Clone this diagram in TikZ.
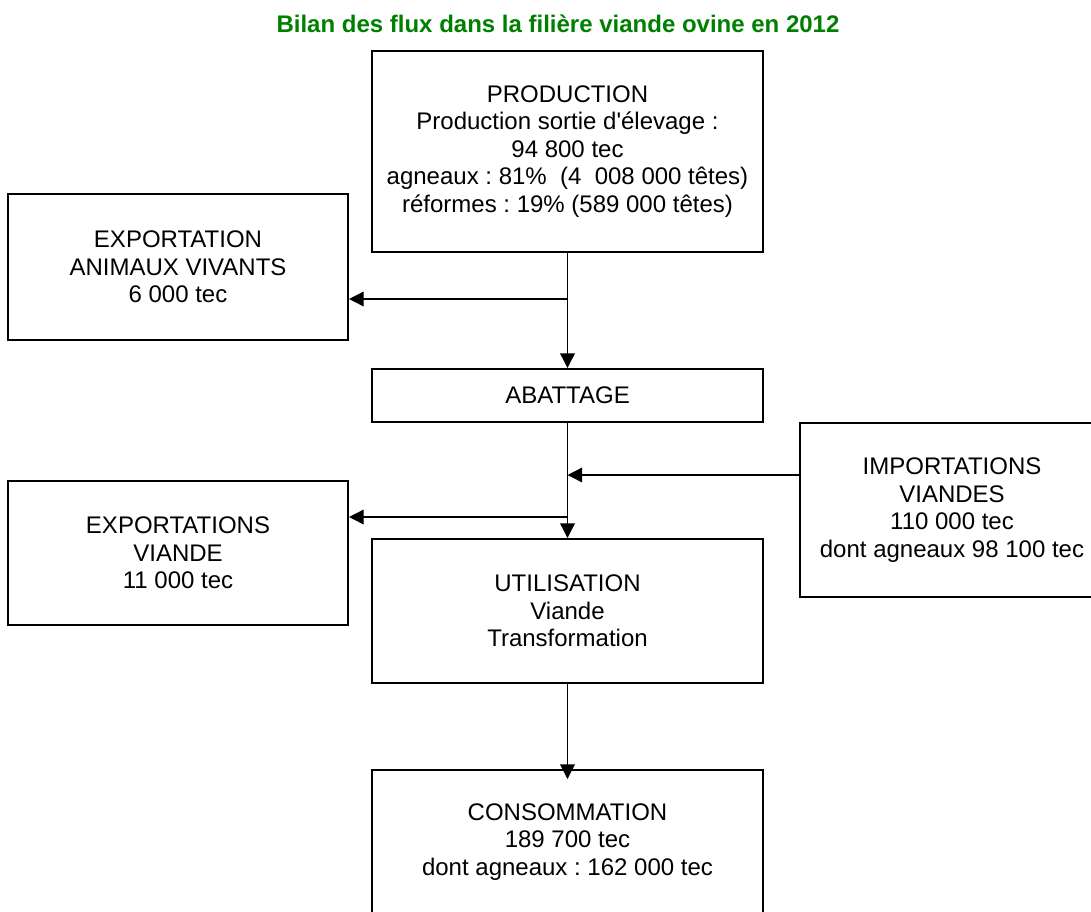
\documentclass[tikz,border=0pt]{standalone}
\usepackage{fontspec}
\setmainfont{Liberation Sans}
\usetikzlibrary{arrows.meta}
\definecolor{titlegreen}{RGB}{0,128,0}
\frenchspacing
\begin{document}
\begin{tikzpicture}[x=0.75pt,y=-0.75pt,
  box/.style={draw,line width=1.5pt,inner sep=0pt,align=center,
    font=\fontsize{18}{20.6}\selectfont},
  flow/.style={line width=1pt,-{Triangle[length=11pt,width=11pt]}}]
\useasboundingbox (0,0) rectangle (1091,911);
\clip (0,0) rectangle (1091,911);

% title
\node[font=\bfseries\fontsize{18}{20}\selectfont,text=titlegreen,anchor=base]
  (title) at (558,32) {Bilan des flux dans la filière viande ovine en 2012};

% boxes
\node[box,minimum width=293.25pt,minimum height=150.75pt] (prod) at (567.5,151.5)
  {PRODUCTION\\Production sortie d\textquotesingle élevage :\\94 800 tec\\agneaux : 81\%~ (4~ 008 000 têtes)\\réformes : 19\% (589 000 têtes)};
\node[box,minimum width=255pt,minimum height=109.5pt] (expA) at (178,267)
  {EXPORTATION\\ANIMAUX VIVANTS\\6 000 tec};
\node[box,minimum width=293.25pt,minimum height=39.75pt] (abat) at (567.5,395.5)
  {ABATTAGE};
\node[box,minimum width=228pt,minimum height=130.5pt] (imp) at (952,510)
  {IMPORTATIONS\\VIANDES\\110 000 tec\\dont agneaux 98 100 tec};
\node[box,minimum width=255pt,minimum height=108pt] (expV) at (178,553)
  {EXPORTATIONS\\VIANDE\\11 000 tec};
\node[box,minimum width=293.25pt,minimum height=108pt] (util) at (567.5,611)
  {UTILISATION\\Viande\\Transformation};
\node[box,minimum width=293.25pt,minimum height=108pt] (conso) at (567.5,842)
  {CONSOMMATION\\189 700 tec\\dont agneaux : 162 000 tec};

% junctions on the main flow line
\coordinate (jA) at (567.5,299);
\coordinate (jI) at (567.5,475);
\coordinate (jV) at (567.5,517);

% connectors
\draw[flow] (prod.south) -- (abat.north);
\draw[flow] (jA) -- (jA -| expA.east);
\draw[flow] (abat.south) -- (util.north);
\draw[flow] (imp.west |- jI) -- (jI);
\draw[flow] (jV) -- (jV -| expV.east);
\draw[flow,shorten >=-7.5pt] (util.south) -- (conso.north);
\end{tikzpicture}
\end{document}
